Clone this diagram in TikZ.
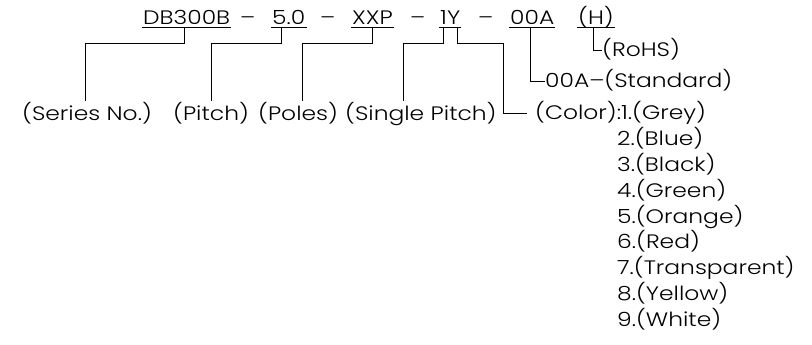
\documentclass[tikz,border=0pt]{standalone}
\usepackage{fontspec}
\setmainfont{Poppins}[UprightFont={* Light}, FakeStretch=1.2]
\newcommand{\cadfont}{\fontsize{19.5}{20}\selectfont}
\begin{document}
\begin{tikzpicture}[x=1pt,y=-1pt,
  txt/.style={inner sep=0pt, anchor=base west, font=\cadfont},
  lab/.style={inner xsep=0pt, inner ysep=2pt, anchor=base west, font=\cadfont},
  ln/.style={line width=0.8pt, black},
  ul/.style={line width=0.8pt, black}]
\useasboundingbox (0,0) rectangle (812,345);
% top code
\node[txt] (t1) at (143,25) {DB300B};
\node[txt] (d1) at (240,25) {–};
\node[txt] (t2) at (272,25) {5.0};
\node[txt] (d2) at (320,25) {–};
\node[txt] (t3) at (352,25) {XXP};
\node[txt] (d3) at (410,25) {–};
\node[txt] (t4) at (440,25) {1Y};
\node[txt] (d4) at (478,25) {–};
\node[txt] (t5) at (510,25) {00A};
\node[txt] (t6) at (578,25) {(H)};
% underlines
\foreach \n in {t1,t2,t3,t4,t5,t6}
  \draw[ul] ([xshift=-1pt,yshift=-2.5pt]\n.base west) -- ([xshift=1pt,yshift=-2.5pt]\n.base east);
% connector start points on the underlines
\coordinate (c1) at (184,27.5);
\coordinate (c2) at (281,27.5);
\coordinate (c3) at (372,27.5);
\coordinate (c4) at (443,27.5);
\coordinate (c4b) at (457,27.5);
\coordinate (c5) at (530,27.5);
\coordinate (c6) at (593,27.5);
% bottom labels
\node[lab] (l1) at (22,121) {(Series No.)};
\node[lab] (l2) at (173,121) {(Pitch)};
\node[lab] (l3) at (258,121) {(Poles)};
\node[lab] (l4) at (345,121) {(Single Pitch)};
\node[txt] (col) at (535,120) {(Color):1.(Grey)};
\node[txt] (std) at (545,88) {00A–(Standard)};
\node[txt] (rohs) at (602,57) {(RoHS)};
% color list
\foreach \i/\c [count=\k from 1] in {2/Blue,3/Black,4/Green,5/Orange,6/Red,7/Transparent,8/Yellow,9/White}
  \node[txt] (col\i) at (617,120+25.75*\k) {\i.(\c)};
% connectors
\coordinate (k1) at (85,43);
\coordinate (k2) at (211,43);
\coordinate (k3) at (302,43);
\coordinate (k4) at (403,43);
\coordinate (k4b) at (503,43);
\coordinate (e4b) at (527,113);
\draw[ln] (c1) |- (k1) -- (k1 |- l1.north);
\draw[ln] (c2) |- (k2) -- (k2 |- l2.north);
\draw[ln] (c3) |- (k3) -- (k3 |- l3.north);
\draw[ln] (c4) |- (k4) -- (k4 |- l4.north);
\draw[ln] (c4b) |- (k4b) |- (e4b);
\draw[ln] (c5) |- ([yshift=7pt]std.base west);
\draw[ln] (c6) |- ([yshift=7pt]rohs.base west);
\end{tikzpicture}
\end{document}
